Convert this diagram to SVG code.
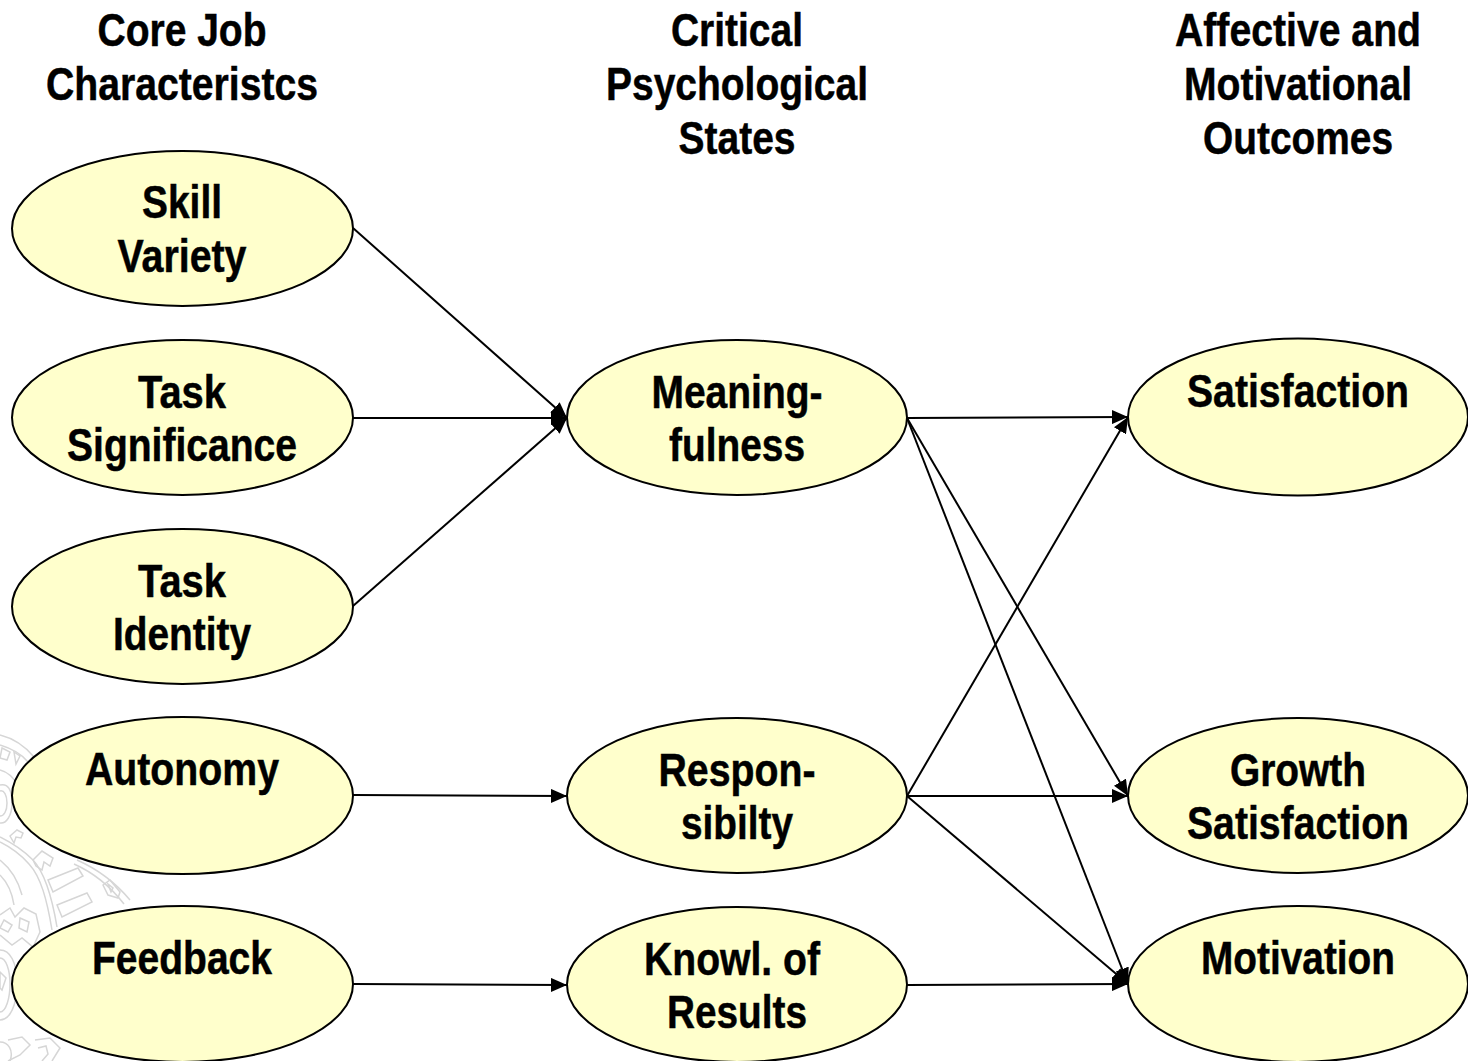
<svg xmlns="http://www.w3.org/2000/svg" width="1468" height="1061" viewBox="0 0 1468 1061">
<style>
text{font-family:"Liberation Sans",Arial,sans-serif;font-weight:bold;font-size:47px;fill:#000;stroke:#000;stroke-width:.5;text-anchor:middle}
ellipse{fill:#ffffcc;stroke:#000;stroke-width:2}
.c line{stroke:#000;stroke-width:2;marker-end:url(#a)}
.w path{fill:none;stroke:#d6d6d6;stroke-width:1.5}
</style>
<defs><marker id="a" markerUnits="userSpaceOnUse" markerWidth="17" markerHeight="14" refX="16" refY="7" orient="auto"><path d="M0 0L16 7L0 14Z" fill="#000"/></marker></defs>
<rect width="1468" height="1061" fill="#fff"/>
<g id="seal" class="w">
<path d="M0 735C12 738 24 745 34 757"/><path d="M0 745C10 748 20 752 28 762"/><path d="M2 748L10 752L7 760L0 758Z"/><path d="M14 752L20 756L16 764Z"/>
<path d="M0 770C8 772 14 778 18 786"/><path d="M0 785C8 783 12 790 12 803C12 816 6 824 0 823"/><path d="M0 791C4 790 7 795 7 803C7 811 4 816 0 816"/>
<path d="M0 837C14 844 25 852 33 860C45 873 52 897 57 927"/><path d="M0 842C12 848 22 856 29 864C41 877 47 900 52 930"/>
<path d="M77 860C95 868 115 882 130 900"/><path d="M74 864C92 872 110 886 124 904"/>
<path d="M10 836L17 830L23 833L21 838L16 837L14 843Z"/>
<path d="M33 860L42 851L53 858L50 866L44 862L42 870L36 866Z"/>
<path d="M48 880L78 868L83 876L53 892Z"/>
<path d="M57 905L87 893L92 902L62 917Z"/>
<path d="M103 885L110 880L120 892L118 898L108 895Z"/><path d="M108 884L113 888L111 892Z"/>
<path d="M0 860C10 868 18 880 22 895"/><path d="M0 875C7 882 12 892 14 905"/>
<path d="M0 915L10 908L15 917L24 908L36 914L40 932L33 947L22 938L12 945L0 935"/><path d="M4 920L12 925L8 932L0 928Z"/><path d="M20 918L29 922L27 932L19 928Z"/>
<path d="M0 950C10 950 17 962 17 984C17 1005 10 1020 0 1020"/><path d="M0 958C6 958 10 970 10 984C10 998 6 1012 0 1012"/><path d="M0 972L6 978L2 990L0 988Z"/>
<path d="M8 1040L22 1037L30 1045L20 1055L8 1061"/><path d="M0 1042C8 1042 14 1050 10 1061"/>
<path d="M35 1040L50 1038L60 1048L52 1061"/><path d="M38 1048L46 1046L48 1054L42 1061"/>
</g>
<g id="connectors" class="c">
<line x1="353" y1="228" x2="567" y2="418"/>
<line x1="353" y1="418" x2="567" y2="418"/>
<line x1="353" y1="606" x2="567" y2="418"/>
<line x1="353" y1="795" x2="567" y2="796"/>
<line x1="353" y1="984" x2="567" y2="985"/>
<line x1="907" y1="418" x2="1128" y2="417"/>
<line x1="907" y1="418" x2="1128" y2="796"/>
<line x1="907" y1="418" x2="1128" y2="984"/>
<line x1="907" y1="796" x2="1128" y2="417"/>
<line x1="907" y1="796" x2="1128" y2="796"/>
<line x1="907" y1="796" x2="1128" y2="984"/>
<line x1="907" y1="985" x2="1128" y2="984"/>
</g>
<g id="h1"><text x="182" y="46" textLength="169" lengthAdjust="spacingAndGlyphs">Core Job</text><text x="182" y="100" textLength="272" lengthAdjust="spacingAndGlyphs">Characteristcs</text></g>
<g id="h2"><text x="737" y="46" textLength="132" lengthAdjust="spacingAndGlyphs">Critical</text><text x="737" y="100" textLength="262" lengthAdjust="spacingAndGlyphs">Psychological</text><text x="737" y="154" textLength="117" lengthAdjust="spacingAndGlyphs">States</text></g>
<g id="h3"><text x="1298" y="46" textLength="246" lengthAdjust="spacingAndGlyphs">Affective and</text><text x="1298" y="100" textLength="228" lengthAdjust="spacingAndGlyphs">Motivational</text><text x="1298" y="154" textLength="190" lengthAdjust="spacingAndGlyphs">Outcomes</text></g>
<g id="skill"><ellipse cx="182.500" cy="228.500" rx="170.500" ry="77.500"/><text x="182" y="218" textLength="80" lengthAdjust="spacingAndGlyphs">Skill</text><text x="182" y="272" textLength="129" lengthAdjust="spacingAndGlyphs">Variety</text></g>
<g id="significance"><ellipse cx="182.500" cy="417.500" rx="170.500" ry="77.500"/><text x="182" y="408" textLength="88" lengthAdjust="spacingAndGlyphs">Task</text><text x="182" y="461" textLength="230" lengthAdjust="spacingAndGlyphs">Significance</text></g>
<g id="identity"><ellipse cx="182.500" cy="606.500" rx="170.500" ry="77.500"/><text x="182" y="597" textLength="88" lengthAdjust="spacingAndGlyphs">Task</text><text x="182" y="650" textLength="138" lengthAdjust="spacingAndGlyphs">Identity</text></g>
<g id="autonomy"><ellipse cx="182.500" cy="795.500" rx="170.500" ry="78.500"/><text x="182" y="785" textLength="194" lengthAdjust="spacingAndGlyphs">Autonomy</text></g>
<g id="feedback"><ellipse cx="182.500" cy="984" rx="170.500" ry="78"/><text x="182" y="974" textLength="180" lengthAdjust="spacingAndGlyphs">Feedback</text></g>
<g id="meaning"><ellipse cx="737" cy="417.500" rx="170" ry="77.500"/><text x="737" y="408" textLength="171" lengthAdjust="spacingAndGlyphs">Meaning-</text><text x="737" y="461" textLength="136" lengthAdjust="spacingAndGlyphs">fulness</text></g>
<g id="respon"><ellipse cx="737" cy="795.500" rx="170" ry="77.500"/><text x="737" y="786" textLength="157" lengthAdjust="spacingAndGlyphs">Respon-</text><text x="737" y="839" textLength="112" lengthAdjust="spacingAndGlyphs">sibilty</text></g>
<g id="knowl"><ellipse cx="737" cy="984.500" rx="170" ry="77.500"/><text x="732" y="975" textLength="176" lengthAdjust="spacingAndGlyphs">Knowl. of</text><text x="737" y="1028" textLength="140" lengthAdjust="spacingAndGlyphs">Results</text></g>
<g id="satisfaction"><ellipse cx="1298" cy="417" rx="170" ry="78.500"/><text x="1298" y="407" textLength="222" lengthAdjust="spacingAndGlyphs">Satisfaction</text></g>
<g id="growth"><ellipse cx="1298" cy="795.500" rx="170" ry="77.500"/><text x="1298" y="786" textLength="136" lengthAdjust="spacingAndGlyphs">Growth</text><text x="1298" y="839" textLength="222" lengthAdjust="spacingAndGlyphs">Satisfaction</text></g>
<g id="motivation"><ellipse cx="1298" cy="984" rx="170" ry="78"/><text x="1298" y="974" textLength="194" lengthAdjust="spacingAndGlyphs">Motivation</text></g>
</svg>
